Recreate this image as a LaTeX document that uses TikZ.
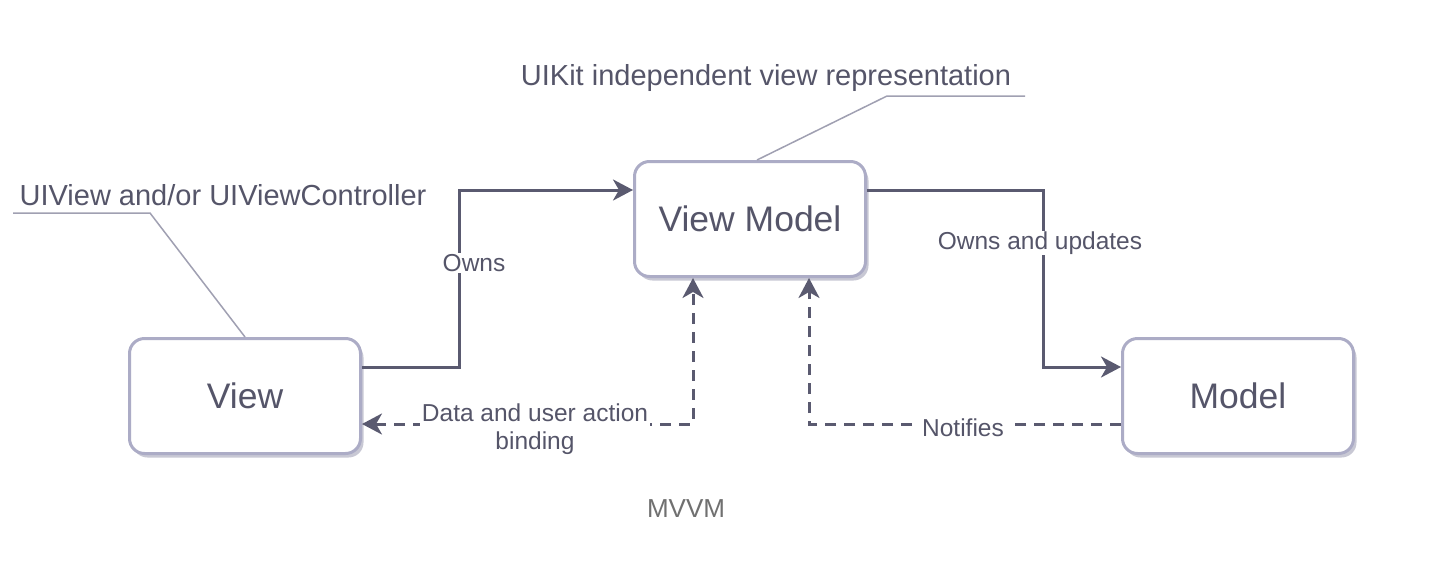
\documentclass[tikz,border=0pt]{standalone}
\usepackage{fontspec}
\setmainfont{Liberation Sans}
\usetikzlibrary{arrows.meta,shadows}
\definecolor{txt}{RGB}{85,85,105}
\definecolor{ln}{RGB}{90,90,112}
\definecolor{bd}{RGB}{172,172,198}
\definecolor{shd}{RGB}{200,200,212}
\definecolor{ann}{RGB}{160,160,178}
\definecolor{cap}{RGB}{112,112,112}
\tikzset{
  box/.style={draw=bd, line width=3pt, fill=white, rounded corners=15pt,
    minimum width=231pt, minimum height=115pt, text=txt,
    font=\fontsize{35.5}{42}\selectfont,
    drop shadow={shadow xshift=3pt, shadow yshift=-4pt, fill=shd, opacity=1}},
  conn/.style={draw=ln, line width=3pt},
  dsh/.style={conn, dash pattern=on 11pt off 8pt},
  tip/.style={-{Stealth[length=20pt,width=21pt,inset=6pt]}},
  lab/.style={fill=white, text=txt, inner xsep=4pt, inner ysep=1pt, font=\fontsize{24.5}{28}\selectfont},
  annot/.style={text=txt, inner sep=0pt, font=\fontsize{29}{34}\selectfont},
  annline/.style={draw=ann, line width=1.5pt}
}
\begin{document}
\begin{tikzpicture}[x=1pt,y=-1pt]
\useasboundingbox[fill=white] (0,0) rectangle (1446,576);
\node[box] (view) at (245,396) {View};
\node[box] (vm) at (750,219) {View Model};
\node[box] (model) at (1238,396) {Model};
% annotations
\node[annot] (uiv) at (223,195) {UIView and/or UIViewController};
\node[annot] (uik) at (766,78) {UIKit independent view representation};
\coordinate (a1) at (13,213);
\coordinate (a2) at (150,213);
\coordinate (b1) at (1025,96);
\coordinate (b2) at (887,96);
\draw[annline] (a1) -- (a2) -- (view.north);
\draw[annline] (b1) -- (b2) -- ([xshift=7pt]vm.north);
% solid connectors
\coordinate (k1) at (459,367);
\coordinate (k2) at (1043,190);
\draw[conn,tip] ([yshift=29pt]view.east) -- (k1) |- ([yshift=29pt]vm.west);
\draw[conn,tip] ([yshift=29pt]vm.east) -- (k2) |- ([yshift=29pt]model.west);
\node[lab] (owns) at (474,263) {Owns};
\node[lab] (ownsup) at (1040,243) {Owns and updates};
% dashed connectors
\draw[dsh,{Stealth[length=20pt,width=21pt,inset=6pt]}-{Stealth[length=20pt,width=21pt,inset=6pt]}] ([yshift=-28pt]view.east) -| ([xshift=-57pt]vm.south);
\draw[dsh,tip] ([yshift=-28pt]model.west) -| ([xshift=59pt]vm.south);
\node[lab, align=center, inner xsep=2pt] (bind) at (535,429) {Data and user action\\binding};
\node[lab] (notif) at (963,428) {Notifies};
% caption
\node[text=cap, font=\fontsize{26}{30}\selectfont] (mvvm) at (686,509) {MVVM};
\end{tikzpicture}
\end{document}
